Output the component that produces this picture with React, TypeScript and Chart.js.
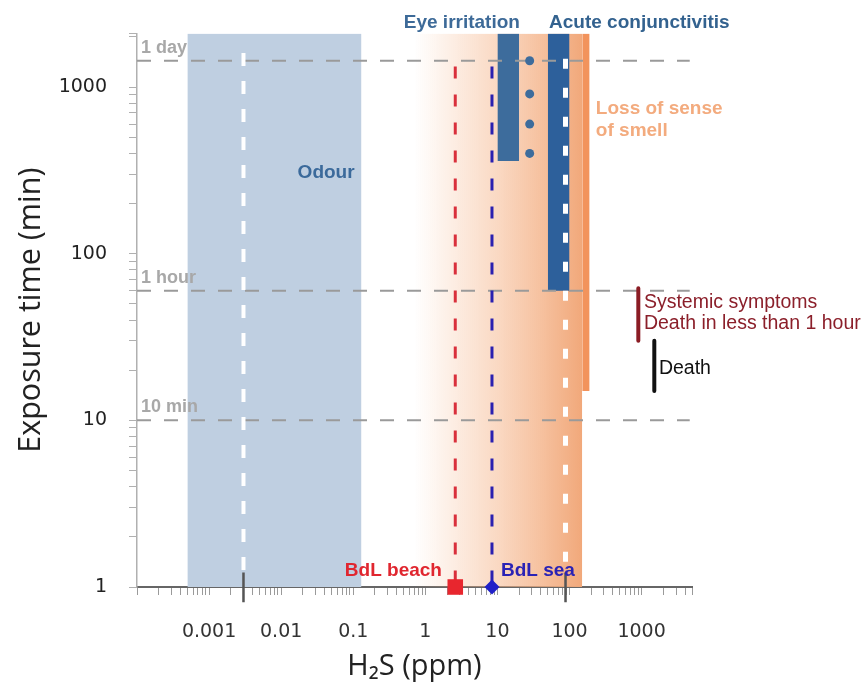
import React, { useEffect, useRef } from 'react';
import { Chart, registerables } from 'chart.js';

Chart.register(...registerables);

// ---- axes ----
const X_MIN = 0.0001;
const X_MAX = 5000;
const Y_MIN = 1;
const Y_MAX = 2100;
const X_TICK_LABELS = ['0.001', '0.01', '0.1', '1', '10', '100', '1000'];
const Y_TICK_LABELS = ['1', '10', '100', '1000'];

// ---- reference exposure times (min) ----
const REF_TIMES = [1440, 60, 10];
const REF_NAMES = ['1 day', '1 hour', '10 min'];

// ---- effect ranges (ppm) and exposure times (min) ----
const ODOUR_PPM = [0.0005, 0.13];
const ODOUR_MARK_PPM = 0.003;
const ODOUR_MARK_TIMES = [1.22, 1600];
const SMELL_FADE_PPM = [0.7, 150];
const SMELL_LOSS_PPM = [150, 190];
const SMELL_LOSS_MIN_TIME = 15;
const EYE_PPM = [10, 20];
const EYE_MIN_TIME = 360;
const EYE_DOT_PPM = 28;
const EYE_DOT_TIMES = [1440, 910, 600, 400];
const CONJ_PPM = [50, 100];
const CONJ_MIN_TIME = 60;
const CONJ_MARK_PPM = 88;
const CONJ_MARK_TIMES = [1.22, 1480];
const AXIS_MARK_TIMES = [0.81, 1.22];
const BEACH_PPM = 2.6;
const SEA_PPM = 8.4;
const SITE_LINE_TIMES = [1, 1330];
const SYSTEMIC_PPM = 900;
const SYSTEMIC_TIMES = [30, 62];
const DEATH_PPM = 1500;
const DEATH_TIMES = [15, 30];

// ---- text labels (anchored in data coordinates) ----
const LBL = '"Liberation Sans", Arial, sans-serif';
const LABELS = [
  { text: 'Odour', x: 0.042, y: 305, color: '#3b6a9b', font: `bold 19px ${LBL}`, align: 'center' },
  { text: 'Eye irritation', x: 20.5, y: 2417, color: '#3d6a98', font: `bold 19px ${LBL}`, align: 'right' },
  { text: 'Acute conjunctivitis', x: 52, y: 2417, color: '#33628f', font: `bold 19px ${LBL}`, align: 'left' },
  { text: 'Loss of sense', x: 232, y: 738, color: '#f3ab7e', font: `bold 19px ${LBL}`, align: 'left' },
  { text: 'of smell', x: 232, y: 545, color: '#f3ab7e', font: `bold 19px ${LBL}`, align: 'left' },
  { text: 'Systemic symptoms', x: 1077, y: 51, color: '#8b1f2a', font: `19.5px ${LBL}`, align: 'left' },
  { text: 'Death in less than 1 hour', x: 1077, y: 38, color: '#8b1f2a', font: `19.5px ${LBL}`, align: 'left' },
  { text: 'Death', x: 1738, y: 20.5, color: '#111111', font: `19.5px ${LBL}`, align: 'left' },
  { text: 'BdL beach', x: 1.7, y: 1.26, color: '#e0262f', font: `bold 19px ${LBL}`, align: 'right' },
  { text: 'BdL sea', x: 11.2, y: 1.26, color: '#2a22b5', font: `bold 19px ${LBL}`, align: 'left' },
];

function logTickValues(min: number, max: number): number[] {
  const out: number[] = [];
  for (let e = Math.floor(Math.log10(min)); e <= Math.ceil(Math.log10(max)); e++) {
    for (let k = 1; k <= 9; k++) {
      const v = parseFloat((k * Math.pow(10, e)).toPrecision(6));
      if (v >= min - 1e-12 && v <= max + 1e-9) out.push(v);
    }
  }
  if (out[out.length - 1] !== max) out.push(max);
  return out;
}

function decadeLabel(labels: string[]) {
  return (value: number) => {
    const e = Math.log10(value);
    const r = Math.round(e);
    if (Math.abs(e - r) > 1e-6) return '';
    const s = r < 0 ? Math.pow(10, r).toFixed(-r) : String(Math.pow(10, r));
    return labels.includes(s) ? s : '';
  };
}

const hidden = 'rgba(0,0,0,0)';

function band(x0: number, x1: number, bottom: number | null, color: any) {
  return {
    data: [{ x: x0, y: Y_MAX }, { x: x1, y: Y_MAX }],
    borderWidth: 0,
    borderColor: hidden,
    pointRadius: 0,
    fill: bottom === null ? 'start' : { value: bottom },
    backgroundColor: color,
  };
}

function vline(x: number, times: number[], color: string, width: number, dash: number[] = [], cap = 'butt', clip: any = undefined) {
  const d: any = {
    data: [{ x, y: times[1] }, { x, y: times[0] }],
    borderColor: color,
    borderWidth: width,
    borderDash: dash,
    borderCapStyle: cap,
    pointRadius: 0,
    fill: false,
  };
  if (clip !== undefined) d.clip = clip;
  return d;
}

function hline(y: number) {
  return {
    data: [{ x: X_MIN, y }, { x: X_MAX * 0.93, y }],
    borderColor: '#9a9a9a',
    borderWidth: 2,
    borderDash: [14, 13],
    pointRadius: 0,
    fill: false,
  };
}

const textPlugin = {
  id: 'textLabels',
  afterDatasetsDraw(chart: any) {
    const { ctx, scales } = chart;
    const xs = scales.x;
    const ys = scales.y;
    ctx.save();
    ctx.textBaseline = 'middle';
    for (const l of LABELS) {
      ctx.font = l.font;
      ctx.fillStyle = l.color;
      ctx.textAlign = l.align;
      ctx.fillText(l.text, xs.getPixelForValue(l.x), ys.getPixelForValue(l.y));
    }
    ctx.font = `bold 18px ${LBL}`;
    ctx.fillStyle = '#a8a8a8';
    ctx.textAlign = 'left';
    REF_TIMES.forEach((t, i) => {
      ctx.fillText(REF_NAMES[i], xs.getPixelForValue(X_MIN) + 4, ys.getPixelForValue(t) - 13);
    });
    ctx.restore();
  },
};

export default function App() {
  const ref = useRef<HTMLCanvasElement>(null);

  useEffect(() => {
    const canvas = ref.current;
    if (!canvas) return;

    const fadeColor = (ctx: any) => {
      const chart = ctx.chart;
      const area = chart.chartArea;
      if (!area) return 'rgba(241,170,125,0.5)';
      const x0 = chart.scales.x.getPixelForValue(SMELL_FADE_PPM[0]);
      const x1 = chart.scales.x.getPixelForValue(SMELL_FADE_PPM[1]);
      const g = chart.ctx.createLinearGradient(x0, 0, x1, 0);
      g.addColorStop(0, 'rgba(245,180,135,0)');
      g.addColorStop(0.5, 'rgba(245,178,134,0.5)');
      g.addColorStop(1, 'rgba(241,168,122,1)');
      return g;
    };

    const layers: any[] = [
      band(SMELL_FADE_PPM[0], SMELL_FADE_PPM[1], null, fadeColor),
      band(SMELL_LOSS_PPM[0], SMELL_LOSS_PPM[1], SMELL_LOSS_MIN_TIME, '#f2935c'),
      band(ODOUR_PPM[0], ODOUR_PPM[1], null, '#bfcfe1'),
      band(EYE_PPM[0], EYE_PPM[1], EYE_MIN_TIME, '#3d6c9c'),
      band(CONJ_PPM[0], CONJ_PPM[1], CONJ_MIN_TIME, '#2d609b'),
      ...REF_TIMES.map((t) => hline(t)),
      vline(ODOUR_MARK_PPM, ODOUR_MARK_TIMES, '#ffffff', 4, [13, 15]),
      vline(CONJ_MARK_PPM, CONJ_MARK_TIMES, '#ffffff', 5, [10, 19]),
      vline(ODOUR_MARK_PPM, AXIS_MARK_TIMES, '#555555', 2.5, [], 'butt', false),
      vline(CONJ_MARK_PPM, AXIS_MARK_TIMES, '#555555', 2.5, [], 'butt', false),
      vline(BEACH_PPM, SITE_LINE_TIMES, '#d9303c', 3, [12, 16]),
      vline(SEA_PPM, SITE_LINE_TIMES, '#2a20b0', 3, [12, 16]),
      {
        data: EYE_DOT_TIMES.map((t) => ({ x: EYE_DOT_PPM, y: t })),
        showLine: false,
        pointRadius: 4.5,
        pointStyle: 'circle',
        pointBackgroundColor: '#3d6c9c',
        pointBorderWidth: 0,
        borderColor: hidden,
      },
      vline(SYSTEMIC_PPM, SYSTEMIC_TIMES, '#8b1c24', 4, [], 'round'),
      vline(DEATH_PPM, DEATH_TIMES, '#111111', 4, [], 'round'),
      {
        data: [{ x: BEACH_PPM, y: Y_MIN }],
        showLine: false,
        pointStyle: 'rect',
        pointRadius: 11,
        pointBackgroundColor: '#e8262e',
        pointBorderColor: '#e8262e',
        pointBorderWidth: 0,
        borderColor: hidden,
        clip: false,
      },
      {
        data: [{ x: SEA_PPM, y: Y_MIN }],
        showLine: false,
        pointStyle: 'rectRot',
        pointRadius: 7.5,
        pointBackgroundColor: '#2020c8',
        pointBorderColor: '#2020c8',
        pointBorderWidth: 0,
        borderColor: hidden,
        clip: false,
      },
    ];
    const n = layers.length;
    const datasets = layers.map((d, i) => ({ type: 'line', tension: 0, order: n - i, ...d }));

    const xTicks = logTickValues(X_MIN, X_MAX);
    const yTicks = logTickValues(Y_MIN, Y_MAX);

    const chart = new Chart(canvas, {
      type: 'line',
      data: { datasets } as any,
      plugins: [textPlugin],
      options: {
        responsive: false,
        animation: false,
        devicePixelRatio: 1,
        layout: { padding: { top: 33, right: 171, left: 0, bottom: 0 } },
        plugins: { legend: { display: false }, tooltip: { enabled: false } },
        scales: {
          x: {
            type: 'logarithmic',
            position: 'bottom',
            min: X_MIN,
            max: X_MAX,
            afterBuildTicks: (s: any) => {
              s.ticks = xTicks.map((v) => ({ value: v }));
            },
            afterFit: (s: any) => {
              s.height = 99;
            },
            ticks: {
              autoSkip: false,
              maxRotation: 0,
              minRotation: 0,
              padding: 26,
              color: '#333333',
              font: { family: 'DejaVu Sans', size: 19 },
              callback: decadeLabel(X_TICK_LABELS),
            },
            grid: { drawOnChartArea: false, drawTicks: true, tickLength: 8, color: '#9a9a9a' },
            border: { display: true, color: '#666666', width: 2 },
            title: {
              display: true,
              text: 'H₂S (ppm)',
              color: '#222222',
              font: { family: 'Open Sans', size: 29 },
              padding: { top: 0, bottom: 2 },
            },
          },
          y: {
            type: 'logarithmic',
            min: Y_MIN,
            max: Y_MAX,
            afterBuildTicks: (s: any) => {
              s.ticks = yTicks.map((v) => ({ value: v }));
            },
            afterFit: (s: any) => {
              s.width = 137;
            },
            ticks: {
              autoSkip: false,
              padding: 22,
              color: '#222222',
              font: { family: 'DejaVu Sans', size: 19 },
              callback: decadeLabel(Y_TICK_LABELS),
            },
            grid: { drawOnChartArea: false, drawTicks: true, tickLength: 8, color: '#b0b0b0' },
            border: { display: true, color: '#b0b0b0', width: 1.5 },
            title: {
              display: true,
              text: 'Exposure time (min)',
              color: '#222222',
              font: { family: 'Open Sans', size: 30.5 },
              padding: { top: 13, bottom: 0 },
            },
          },
        },
      } as any,
    });

    return () => chart.destroy();
  }, []);

  return (
    <div style={{ position: 'fixed', left: 0, top: 0, width: 863, height: 686, background: '#ffffff' }}>
      <canvas ref={ref} width={863} height={686} style={{ display: 'block' }} />
    </div>
  );
}
